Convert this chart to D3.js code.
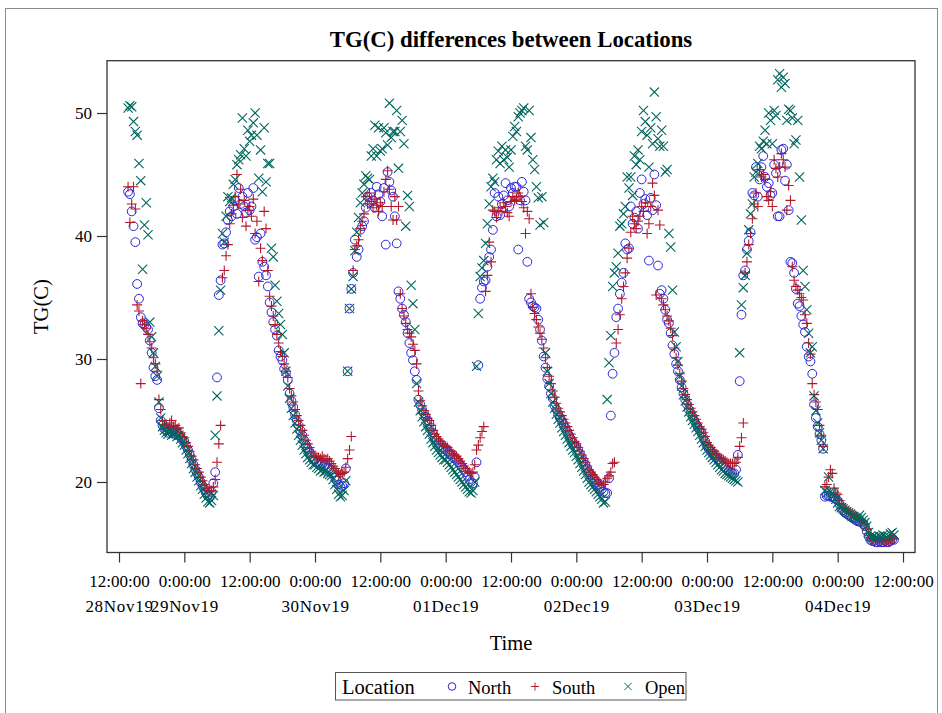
<!DOCTYPE html>
<html>
<head>
<meta charset="utf-8">
<script src="https://cdn.jsdelivr.net/npm/d3@7/dist/d3.min.js"></script>
<style>
  html, body { margin: 0; padding: 0; background: #fff; }
  svg { display: block; font-family: "Liberation Serif", "Times New Roman", Times, serif; }
</style>
</head>
<body>
<svg id="chart" width="942" height="713"></svg>
<script>
// Logger readings: one value every 20 minutes, first reading 28Nov2019 13:40
const firstReading = new Date(2019, 10, 28, 13, 40);
const stepMinutes = 20;

const north = [
  // 28Nov 13:40-23:40
  43.6,43.4,42.0,40.8,39.5,36.1,34.9,33.4,32.9,32.8,32.6,32.4,31.5,30.5,29.3,28.6,28.3,26.0,25.0,24.6,24.3,24.2,24.0,24.3,24.1,24.2,23.9,24.0,23.8,23.6,23.4,
  // 29Nov
  23.3,22.9,22.6,22.2,21.8,21.4,21.0,20.7,20.4,20.0,19.7,19.4,19.1,18.9,18.8,19.2,19.9,20.8,
  28.5,35.2,36.4,39.3,39.4,40.3,41.3,42.0,41.6,42.4,42.9,41.8,43.9,42.6,43.2,42.4,41.9,43.5,
  42.1,42.4,43.9,39.7,39.9,36.7,40.2,37.9,37.5,36.8,35.9,34.6,33.8,33.0,32.4,31.9,30.7,30.2,
  29.9,29.2,28.9,28.3,27.2,26.6,26.1,25.5,25.0,24.6,24.2,23.8,23.4,23.0,22.7,22.4,22.1,21.8,
  // 30Nov
  21.8,21.6,21.5,21.4,21.5,21.3,21.4,21.2,21.1,21.0,20.8,20.4,20.1,19.8,19.6,19.7,19.9,21.1,
  29.0,34.1,35.7,37.0,39.7,38.3,38.9,40.5,40.8,41.2,42.3,43.2,42.7,43.5,42.9,42.3,44.0,43.4,
  42.8,41.6,43.9,39.3,45.2,44.4,43.7,43.2,41.6,39.4,35.5,34.9,34.1,33.6,33.0,32.1,31.3,30.5,
  29.9,29.0,28.3,26.7,26.3,25.9,25.6,25.3,25.0,24.8,24.4,24.0,23.6,23.4,23.2,23.0,22.8,22.7,
  // 01Dec
  22.6,22.5,22.3,22.2,22.0,21.9,21.8,21.6,21.4,21.2,21.0,20.8,20.5,20.2,20.0,19.9,20.4,21.6,
  29.5,34.9,35.8,36.3,36.4,37.5,38.3,38.9,40.5,43.5,41.6,43.2,41.7,42.6,43.3,44.3,42.9,42.4,
  43.9,43.5,44.0,44.0,38.9,42.9,44.4,43.6,42.9,37.9,34.9,34.6,34.3,34.2,34.1,33.2,32.4,31.5,
  30.2,29.3,28.4,27.8,27.2,26.8,26.2,25.9,25.5,25.2,25.0,24.7,24.4,24.1,23.8,23.5,23.2,22.9,
  // 02Dec
  22.9,22.6,22.3,22.0,21.7,21.4,21.1,20.8,20.6,20.4,20.2,20.0,19.8,19.6,19.4,19.2,19.1,19.1,
  20.3,25.4,28.8,30.5,33.4,34.1,35.3,36.2,37.0,39.4,38.9,39.0,42.4,41.0,41.5,42.0,40.6,43.5,
  44.6,42.6,43.0,41.7,38.0,43.1,42.1,45.0,42.5,37.6,35.3,35.6,34.9,34.0,33.2,32.9,32.1,31.1,
  30.4,29.6,29.0,28.3,27.7,27.2,26.7,26.3,25.9,25.6,25.3,25.0,24.7,24.4,24.2,24.0,23.6,23.3,
  // 03Dec
  22.9,22.7,22.5,22.3,22.1,22.0,21.8,21.6,21.5,21.3,21.2,21.0,20.9,20.8,20.7,20.7,21.0,22.2,
  28.2,33.6,36.8,37.2,38.9,39.6,40.3,43.5,43.3,45.6,43.2,44.6,45.6,46.5,44.8,44.0,44.3,43.3,
  43.5,45.8,45.1,41.6,41.6,47.0,47.1,44.5,45.8,42.1,37.9,37.8,37.0,35.7,34.5,34.3,33.5,32.8,
  32.2,31.0,30.2,29.8,28.8,26.3,25.2,24.5,23.9,23.4,22.7,18.8,18.9,18.9,18.8,18.8,18.7,18.6,
  // 04Dec 0:00-10:20
  18.5,18.2,17.9,17.7,17.5,17.4,17.3,17.2,17.1,17.0,16.9,16.8,16.8,16.7,16.6,16.4,16.0,15.6,15.3,15.2,15.2,15.1,15.1,15.2,15.1,15.1,15.2,15.1,15.1,15.2,15.3,15.3
];

const south = [
  // 28Nov 13:40-23:40
  44.0,41.1,42.6,44.0,42.2,34.4,33.9,28.0,33.1,32.8,32.5,32.0,31.4,30.9,30.1,29.6,29.0,26.7,25.9,25.0,24.6,24.7,24.4,24.8,25.0,24.5,24.6,24.3,24.4,24.0,23.7,
  // 29Nov
  23.6,23.2,22.9,22.5,22.1,21.8,21.4,21.1,20.8,20.4,20.1,19.8,19.5,19.3,19.2,19.3,19.6,20.2,
  21.6,23.1,24.6,36.6,37.2,38.4,39.3,41.0,41.8,42.5,43.2,45.0,42.6,43.8,41.5,42.9,40.8,42.1,
  42.4,41.6,43.0,40.2,41.2,36.3,39.0,38.0,42.0,40.6,37.2,35.1,34.3,33.5,32.8,32.0,31.3,30.6,
  30.2,29.6,29.0,28.5,27.6,27.0,26.5,25.9,25.4,25.0,24.6,24.2,23.8,23.4,23.1,22.8,22.5,22.3,
  // 30Nov
  22.1,22.0,22.0,21.9,22.1,21.9,21.8,21.9,21.7,21.5,21.3,21.1,20.9,20.7,20.6,20.7,20.8,21.2,
  21.9,22.6,23.7,37.2,38.9,39.2,39.7,40.6,41.2,41.8,43.2,42.6,43.5,42.8,42.3,43.0,42.5,42.0,
  42.7,42.4,43.6,44.6,45.3,43.8,42.4,41.3,43.2,41.3,42.4,35.3,34.1,33.5,32.9,32.4,32.1,31.8,
  31.2,30.7,29.6,27.4,26.6,26.2,25.8,25.5,25.2,25.0,24.6,24.2,23.9,23.7,23.5,23.3,23.1,23.0,
  // 01Dec
  22.9,22.8,22.6,22.5,22.3,22.2,22.1,21.9,21.7,21.5,21.3,21.1,20.9,20.8,20.7,20.8,21.4,22.6,
  23.0,23.6,24.1,24.5,35.5,36.8,39.5,37.9,42.1,42.0,41.5,42.0,42.3,42.0,42.7,42.4,41.9,41.6,
  42.8,43.2,42.9,43.0,43.5,43.2,42.8,42.3,40.2,42.0,41.4,35.3,34.2,33.7,33.2,32.6,32.1,31.6,
  30.9,30.1,29.3,28.6,28.0,27.4,26.9,26.4,26.0,25.7,25.4,25.1,24.8,24.5,24.2,23.9,23.6,23.3,
  // 02Dec
  23.1,22.8,22.5,22.2,21.9,21.6,21.3,21.0,20.8,20.6,20.4,20.2,20.0,19.9,19.8,19.8,20.0,20.3,
  20.5,20.8,21.5,21.6,31.3,32.4,33.6,34.9,35.9,37.0,38.2,39.0,40.3,41.6,41.0,40.6,41.2,41.6,
  42.4,42.0,42.7,40.2,41.0,42.4,44.3,43.3,35.2,42.1,40.9,34.9,34.4,34.0,33.5,33.1,32.5,31.9,
  30.9,30.1,29.5,28.8,28.2,27.6,27.1,26.7,26.3,26.0,25.7,25.4,25.1,24.8,24.5,24.3,24.0,23.7,
  // 03Dec
  23.2,23.0,22.8,22.6,22.5,22.3,22.2,22.0,21.9,21.8,21.7,21.6,21.5,21.5,21.5,21.5,21.6,22.0,
  22.9,23.6,24.8,37.0,37.9,39.3,40.2,41.4,42.6,43.5,42.4,45.4,44.8,45.0,44.6,43.2,42.9,43.6,
  42.4,46.2,45.5,44.8,45.6,46.7,46.2,45.6,42.1,44.1,42.9,37.5,36.4,35.9,35.6,35.3,35.0,34.8,
  33.6,32.9,31.3,30.4,28.0,27.1,26.5,25.9,24.6,23.8,22.9,19.6,19.8,20.4,21.0,20.7,19.5,19.1,
  // 04Dec 0:00-10:20
  19.0,18.5,18.2,17.9,17.8,17.7,17.6,17.5,17.4,17.3,17.2,17.1,17.0,16.9,16.8,16.6,16.2,15.8,15.5,15.4,15.3,15.3,15.2,15.3,15.2,15.3,15.3,15.2,15.2,15.3,15.4,15.4
];

const open = [
  // 28Nov 13:40-23:40
  50.4,50.6,50.5,49.3,48.5,48.2,45.9,44.5,37.3,40.9,42.7,40.1,33.0,31.8,30.5,29.4,28.6,26.5,25.2,24.5,24.2,24.0,23.9,24.1,23.8,23.9,24.0,23.7,23.8,23.5,23.2,
  // 29Nov
  23.0,22.6,22.3,21.9,21.5,21.1,20.8,20.4,20.1,19.7,19.4,19.0,18.7,18.4,18.3,18.5,18.9,23.8,
  27.0,32.3,35.6,40.2,39.5,41.6,43.2,42.8,43.1,44.2,44.6,45.8,46.2,46.6,49.6,47.1,46.5,48.6,
  47.7,48.2,49.2,50.0,48.2,44.7,47.0,43.6,48.8,44.4,45.9,45.9,39.0,38.3,36.0,34.7,33.7,32.8,
  32.0,30.5,29.0,27.8,26.8,26.0,25.4,24.8,24.3,23.8,23.4,23.0,22.6,22.3,22.0,21.8,21.6,21.4,
  // 30Nov
  21.4,21.2,21.1,20.9,21.0,20.8,20.9,20.7,20.6,20.5,20.2,19.8,19.4,19.0,18.8,18.9,19.3,20.1,
  29.0,34.1,35.7,36.7,38.8,40.3,41.5,42.7,43.5,44.2,44.9,44.7,44.6,46.5,47.1,49.0,46.5,48.8,
  46.9,47.1,48.8,48.4,47.4,50.8,48.0,48.5,48.5,50.2,45.5,48.5,49.4,47.5,40.8,43.3,42.4,36.0,
  34.5,32.4,28.0,26.5,25.8,25.3,24.9,24.5,24.2,23.9,23.5,23.2,22.9,22.6,22.4,22.2,22.0,21.8,
  // 01Dec
  21.8,21.6,21.4,21.2,21.0,20.8,20.6,20.4,20.2,20.0,19.8,19.6,19.4,19.2,19.1,19.3,20.0,29.4,
  33.7,36.7,37.4,38.0,39.4,41.0,42.6,44.0,44.7,44.4,46.2,46.9,45.9,47.3,46.2,47.0,46.4,45.6,
  47.0,48.1,48.9,48.5,49.7,50.0,50.2,50.4,47.3,47.0,50.2,48.0,46.2,45.4,44.0,43.1,40.9,43.2,
  41.1,30.5,29.0,28.0,27.2,26.5,26.0,25.5,25.1,24.8,24.4,24.1,23.8,23.5,23.2,22.9,22.6,22.4,
  // 02Dec
  22.1,21.8,21.5,21.2,20.9,20.6,20.3,20.0,19.8,19.6,19.4,19.2,19.0,18.8,18.6,18.3,18.4,26.7,
  29.7,31.9,35.9,37.0,37.5,38.6,40.8,41.0,41.8,42.4,44.8,43.9,44.8,43.3,46.5,45.8,47.0,46.2,
  48.5,50.2,49.3,48.2,45.6,48.8,47.5,51.7,49.7,47.9,47.3,48.6,47.3,45.2,45.4,40.2,39.1,35.6,
  32.2,31.0,29.8,28.6,27.8,27.1,26.6,26.1,25.7,25.3,25.0,24.7,24.4,24.1,23.8,23.5,23.2,22.9,
  // 03Dec
  22.6,22.4,22.2,22.0,21.8,21.6,21.4,21.2,21.0,20.9,20.7,20.6,20.5,20.4,20.3,20.2,20.1,20.0,
  30.5,34.4,35.8,36.8,38.6,40.5,41.8,42.6,44.8,45.2,45.9,47.3,47.1,47.7,48.6,47.5,50.0,49.4,
  47.5,50.2,49.8,52.7,53.2,52.1,52.9,52.4,49.4,50.3,50.2,49.6,47.5,47.8,49.4,44.8,41.3,37.2,
  35.9,34.0,32.1,30.5,31.0,27.0,25.8,24.8,24.0,23.4,22.7,19.3,19.1,20.4,19.2,19.1,18.9,18.6,
  // 04Dec 0:00-10:20
  18.3,18.0,17.9,17.8,17.7,17.6,17.5,17.4,17.2,17.2,17.1,17.0,17.3,17.1,16.9,16.7,16.4,15.9,15.6,15.5,15.6,15.5,15.4,15.6,15.5,15.7,15.6,15.5,15.6,15.8,15.9,15.7
];

// Axis ticks: every 12 hours from 28Nov19 12:00
const firstTick = new Date(2019, 10, 28, 12, 0);
const timeLabels = ["12:00:00","0:00:00","12:00:00","0:00:00","12:00:00","0:00:00","12:00:00",
                    "0:00:00","12:00:00","0:00:00","12:00:00","0:00:00","12:00:00"];
const dateLabels = ["28Nov19","29Nov19","","30Nov19","","01Dec19","","02Dec19","","03Dec19","","04Dec19",""];
const yTicks = [20, 30, 40, 50];

const seriesNames = ["North", "South", "Open"];
const seriesColors = ["#2A25D9", "#B2182B", "#01665E"];

// ---------------------------------------------------------------------------
const svg = d3.select("#chart");
const plot = { left: 107, right: 915, top: 60.7, bottom: 552.5 };
const HOUR = 3600 * 1000;

const x = d3.scaleTime()
  .domain([new Date(2019, 10, 28, 9, 47, 45), new Date(2019, 11, 4, 14, 12, 15)])
  .range([plot.left, plot.right]);
const y = d3.scaleLinear()
  .domain([14.268, 54.252])
  .range([plot.bottom, plot.top]);

const toPoints = vals => vals.map((v, i) => ({
  t: new Date(firstReading.getTime() + i * stepMinutes * 60000), v
}));
const series = [north, south, open].map((vals, k) => ({
  name: seriesNames[k], color: seriesColors[k], points: toPoints(vals)
}));

// outer figure border
svg.append("rect")
  .attr("x", 5.5).attr("y", 8.5).attr("width", 932).attr("height", 712)
  .attr("fill", "none").attr("stroke", "#8a8a8a").attr("stroke-width", 1);

// title
svg.append("text")
  .attr("x", (plot.left + plot.right) / 2).attr("y", 47)
  .attr("text-anchor", "middle")
  .attr("font-weight", "bold").attr("font-size", "22.8px").attr("fill", "#000")
  .text("TG(C) differences between Locations");

// x axis
const tickDates = timeLabels.map((_, i) => new Date(firstTick.getTime() + i * 12 * HOUR));
const xAxis = d3.axisBottom(x)
  .tickValues(tickDates)
  .tickSize(10)
  .tickFormat((d, i) => timeLabels[i]);
const gx = svg.append("g")
  .attr("transform", `translate(0,${plot.bottom})`)
  .call(xAxis);
gx.select(".domain").remove();
gx.selectAll(".tick line").attr("stroke", "#333").attr("stroke-width", 1.2);
gx.selectAll(".tick text")
  .attr("y", 34.5).attr("dy", null)
  .attr("font-family", "Liberation Serif, Times New Roman, serif")
  .attr("font-size", "17px").attr("fill", "#000");
gx.selectAll(".tick").append("text")
  .attr("y", 59).attr("text-anchor", "middle")
  .attr("font-family", "Liberation Serif, Times New Roman, serif")
  .attr("font-size", "17px").attr("letter-spacing", "0.7px").attr("fill", "#000")
  .text((d, i) => dateLabels[i]);

// y axis
const yAxis = d3.axisLeft(y).tickValues(yTicks).tickSize(10).tickPadding(5);
const gy = svg.append("g")
  .attr("transform", `translate(${plot.left},0)`)
  .call(yAxis);
gy.select(".domain").remove();
gy.selectAll(".tick line").attr("stroke", "#333").attr("stroke-width", 1.2);
gy.selectAll(".tick text")
  .attr("font-family", "Liberation Serif, Times New Roman, serif")
  .attr("font-size", "17px").attr("fill", "#000");

// axis titles
svg.append("text")
  .attr("x", (plot.left + plot.right) / 2).attr("y", 650)
  .attr("text-anchor", "middle").attr("font-size", "20.5px").attr("fill", "#000")
  .text("Time");
svg.append("text")
  .attr("transform", `translate(48,${(plot.top + plot.bottom) / 2}) rotate(-90)`)
  .attr("text-anchor", "middle").attr("font-size", "20.5px").attr("fill", "#000")
  .text("TG(C)");

// markers
const markerPath = {
  South: "M-5,0H5M0,-5V5",
  Open: "M-4.6,-4.6L4.6,4.6M-4.6,4.6L4.6,-4.6"
};
const gm = svg.append("g");
series.forEach(s => {
  const g = gm.append("g");
  if (s.name === "North") {
    g.selectAll("circle").data(s.points).join("circle")
      .attr("cx", d => x(d.t)).attr("cy", d => y(d.v)).attr("r", 4.4)
      .attr("fill", "none").attr("stroke", s.color).attr("stroke-width", 1);
  } else {
    g.selectAll("path").data(s.points).join("path")
      .attr("transform", d => `translate(${x(d.t)},${y(d.v)})`)
      .attr("d", markerPath[s.name])
      .attr("fill", "none").attr("stroke", s.color).attr("stroke-width", 1.1);
  }
});

// plot frame
svg.append("rect")
  .attr("x", plot.left).attr("y", plot.top)
  .attr("width", plot.right - plot.left).attr("height", plot.bottom - plot.top)
  .attr("fill", "none").attr("stroke", "#333").attr("stroke-width", 1.3);

// legend
const lg = svg.append("g");
lg.append("rect")
  .attr("x", 335.5).attr("y", 672.5).attr("width", 350.5).attr("height", 27.5)
  .attr("fill", "none").attr("stroke", "#555").attr("stroke-width", 1);
lg.append("text").attr("x", 342).attr("y", 693.5)
  .attr("font-size", "20.5px").attr("fill", "#000").text("Location");
const legendItems = [
  { mx: 452, tx: 468 },
  { mx: 535, tx: 552 },
  { mx: 628, tx: 645 }
];
series.forEach((s, k) => {
  const it = legendItems[k];
  if (s.name === "North") {
    lg.append("circle").attr("cx", it.mx).attr("cy", 686.5).attr("r", 3.8)
      .attr("fill", "none").attr("stroke", s.color).attr("stroke-width", 1);
  } else {
    lg.append("path").attr("transform", `translate(${it.mx},686.5) scale(0.8)`)
      .attr("d", markerPath[s.name])
      .attr("fill", "none").attr("stroke", s.color).attr("stroke-width", 1.2);
  }
  lg.append("text").attr("x", it.tx).attr("y", 693.5)
    .attr("font-size", "18.5px").attr("fill", "#000").text(s.name);
});
</script>
</body>
</html>
